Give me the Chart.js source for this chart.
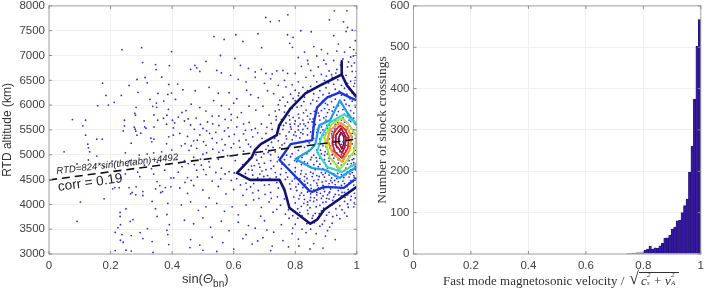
<!DOCTYPE html>
<html>
<head>
<meta charset="utf-8">
<style>
    html, body { margin: 0; padding: 0; background: #fff; width: 709px; height: 291px; overflow: hidden; }
    #left-chart-box { position: absolute; left: 0; top: -5px; width: 365px; height: 296px; }
    #right-chart-box { position: absolute; left: 365px; top: -5px; width: 344px; height: 296px; }
    .note { position: absolute; white-space: nowrap; transform-origin: left bottom; color: #222; font-family: "Liberation Sans", sans-serif; }
    #fit-note { left: 57px; top: 165px; font-size: 9.6px; font-style: italic; transform: rotate(-6.6deg); }
    #corr-note { left: 59px; top: 179px; font-size: 13.5px; transform: rotate(-8deg); }
    #left-xlabel { position: absolute; left: 182px; top: 271px; font: 13px "Liberation Sans", sans-serif; color: #333; }
    #left-xlabel sub { font-size: 10px; line-height: 0; vertical-align: -4px; }
    #right-xlabel { position: absolute; left: 443px; top: 273px; font: 13px "Liberation Serif", serif; color: #333; white-space: nowrap; }
    .root { position: absolute; left: 186px; top: -5px; font-size: 18px; }
    .under { position: absolute; left: 196px; top: -1px; width: 40px; height: 14px; border-top: 1px solid #333; font-style: italic; }
    .under span { position: absolute; }
    .mini { font-size: 7px; }
</style>
</head>
<body>
<div id="left-chart-box"><canvas id="scatter-chart"></canvas></div>
<div id="right-chart-box"><canvas id="hist-chart"></canvas></div>
<div class="note" id="fit-note">RTD=824*sin(thetabn)+4492</div>
<div class="note" id="corr-note">corr = 0.19</div>
<div id="left-xlabel">sin(<i>Θ</i><sub>bn</sub>)</div>
<div id="right-xlabel">Fast mode magnetosonic velocity / <span class="root">√</span><span class="under"><span style="left:2px;top:0">c</span><span class="mini" style="left:8px;top:-2px">2</span><span class="mini" style="left:8px;top:6px">s</span><span style="left:15px;top:0;font-style:normal">+</span><span style="left:26px;top:0">v</span><span class="mini" style="left:32px;top:-2px">2</span><span class="mini" style="left:32px;top:6px">A</span></span></div>
<script src="https://cdn.jsdelivr.net/npm/chart.js@4"></script>
<script>
const altitudeTicks = [3000, 3500, 4000, 4500, 5000, 5500, 6000, 6500, 7000, 7500, 8000];
const countTicks = [0, 100, 200, 300, 400, 500, 600];

// points
const pointsLeft = [[.076,5710],[.119,5695],[.110,5581],[.119,5395],[.155,5315],[.173,5315],[.126,5214],[.158,5990],[.193,6002],[.185,6196],[.174,6443],[.212,6056],[.235,6196],[.26,6397],[.286,6517],[.312,6557],[.319,6450],[.289,6256],[.237,7118],[.301,7158],[.304,6858],[.398,7078],[.346,6817],[.391,6797],[.348,6717],[.366,6563],[.389,6417],[.418,6424],[.398,6243],[.354,6236],[.386,6216],[.373,6082],[.328,6116],[.411,6116],[.349,6042],[.337,5976],[.35,5956],[.388,5916],[.283,5956],[.279,5836],[.281,5796],[.341,5802],[.383,5796],[.372,5736],[.353,5695],[.309,5682],[.245,5695],[.401,5695],[.408,5642],[.245,5581],[.241,5481],[.277,5555],[.28,5515],[.282,5475],[.286,5395],[.298,5435],[.311,5561],[.315,5535],[.341,5561],[.382,5615],[.404,5541],[.404,5395],[.389,5361],[.267,5234],[.331,5335],[.334,5261],[.341,5315],[.382,5220],[.049,5060],[.128,5140],[.132,5060],[.155,4974],[.091,4814],[.128,4894],[.248,5040],[.293,4994],[.319,5014],[.34,5040],[.366,5060],[.399,5094],[.102,4046],[.091,3657],[.179,4112],[.207,4313],[.214,4339],[.228,4333],[.234,4533],[.248,4613],[.26,4339],[.27,4239],[.282,4193],[.265,4213],[.283,4353],[.305,4259],[.305,4179],[.335,4059],[.346,4313],[.351,4459],[.36,4379],[.378,4339],[.369,4259],[.363,4239],[.396,4353],[.386,4019],[.346,3912],[.351,3758],[.383,3796],[.231,3837],[.231,3758],[.25,3912],[.273,3691],[.264,3657],[.232,3591],[.224,3531],[.215,3437],[.237,3391],[.267,3371],[.296,3431],[.32,3511],[.305,3311],[.232,3277],[.241,3237],[.335,3251],[.215,3070],[.25,3078],[.267,3058],[.338,3030],[.391,3591],[.383,3477],[.386,3391],[.389,3190],[.405,4533],[.396,4533],[.262,4880],[.31,4790],[.352,4850],[.39,4810],[.415,4905],[.376,4690],[.333,4720],[.288,4650],[.255,4780],[.205,4870],[.178,4760],[.295,4560],[.34,4610]];

const pointsMiddle = [[.704,7766],[.719,7685],[.748,7699],[.776,7820],[.679,7439],[.607,7419],[.536,7379],[.569,7325],[.775,7419],[.793,7365],[.63,7285],[.782,7245],[.691,7158],[.791,7165],[.557,7000],[.604,6940],[.51,6880],[.46,6720],[.474,6800],[.48,6750],[.49,6680],[.545,6700],[.56,6650],[.622,6800],[.648,6740],[.67,6670],[.69,6720],[.705,6640],[.725,6630],[.74,6690],[.76,6700],[.775,6640],[.59,6600],[.615,6520],[.64,6470],[.67,6560],[.7,6440],[.72,6530],[.745,6400],[.765,6500],[.435,6310],[.475,6290],[.52,6360],[.55,6240],[.585,6250],[.61,6130],[.642,6300],[.655,6210],[.68,6150],[.71,6290],[.73,6230],[.75,6100],[.445,5890],[.462,6020],[.49,5950],[.51,5880],[.535,6090],[.56,5990],[.585,5920],[.6,6040],[.625,5850],[.65,5980],[.672,5900],[.695,5980],[.715,5800],[.735,5880],[.42,5760],[.44,5680],[.46,5600],[.478,5740],[.5,5530],[.515,5660],[.53,5780],[.552,5590],[.57,5480],[.592,5700],[.61,5560],[.632,5420],[.65,5650],[.67,5530],[.69,5620],[.705,5430],[.725,5510],[.425,5430],[.45,5370],[.47,5280],[.49,5400],[.51,5190],[.53,5330],[.545,5240],[.565,5090],[.585,5370],[.6,5220],[.62,5150],[.64,5300],[.655,5160],[.43,5180],[.455,5090],[.48,5130],[.5,5010],[.44,4880],[.47,4950],[.495,4790],[.52,4860],[.55,4910],[.58,4980],[.605,4880],[.63,4800],[.65,4920],[.42,4650],[.45,4540],[.48,4690],[.51,4600],[.53,4470],[.56,4730],[.585,4660],[.61,4520],[.64,4430],[.66,4690],[.685,4610],[.71,4580],[.735,4640],[.425,4330],[.45,4220],[.47,4380],[.5,4290],[.52,4130],[.55,4360],[.575,4210],[.6,4300],[.63,4180],[.655,4350],[.68,4280],[.7,4390],[.72,4240],[.745,4330],[.43,3990],[.46,4050],[.485,3880],[.51,3950],[.545,4020],[.57,3860],[.595,3950],[.615,3790],[.64,3990],[.665,4090],[.69,3940],[.715,4050],[.74,3900],[.765,4110],[.44,3680],[.47,3610],[.5,3730],[.525,3540],[.56,3660],[.585,3470],[.615,3640],[.64,3390],[.67,3520],[.7,3670],[.73,3440],[.755,3590],[.78,3720],[.46,3290],[.49,3180],[.53,3340],[.565,3230],[.6,3100],[.63,3310],[.66,3200],[.695,3330],[.725,3160],[.76,3270],[.79,3410],[.545,3050],[.72,3070],[.5,3075],[.458,3130]];

const pointsUpperRight = [[.927,7900],[.968,7900],[.911,7719],[.957,7679],[.97,7565],[.818,7499],[.852,7479],[.925,7399],[.965,7485],[.978,7165],[.995,7300],[.985,7510],[.94,7230],[.885,7120],[.86,7180],[.83,7070],[.81,6960],[.84,6900],[.87,6990],[.905,7040],[.935,7090],[.96,7070],[.99,7120],[.998,7050],[.98,6970],[.955,6930],[.925,6900],[.9,6830],[.875,6770],[.85,6700],[.82,6780],[.8,6640],[.835,6560],[.86,6590],[.885,6620],[.91,6690],[.935,6720],[.97,6770],[.992,6850],[.985,6680],[.965,6600],[.92,6560],[.895,6500],[.87,6470],[.995,6560],[.98,6480],[.97,6440],[.99,6380],[.81,6470],[.79,6410],[.77,6370],[.8,6300],[.825,6360],[.85,6380],[.785,6220],[.81,6190],[.76,6160],[.775,6060],[.745,6010],[.8,6090],[.83,6160],[.84,6290],[.86,6230],[.88,6290],[.9,6350],[.925,6420],[.95,6400],[.975,6330],[.89,6210],[.91,6240],[.93,6320],[.96,6340],[.985,6250],[.998,6210],[.87,6080],[.85,6030],[.82,5990],[.835,5900],[.79,5930],[.765,5860],[.78,5790],[.81,5820],[.84,5780],[.755,5710],[.77,5640],[.8,5680],[.825,5700],[.855,5660],[.89,6090],[.87,5950],[.885,5890],[.905,6010],[.93,6120],[.95,6200],[.925,5960],[.96,6100],[.985,6080],[.905,5850],[.995,5960],[.975,5990],[.955,5910],
[.842,6830],[.893,6905],[.918,6612],[.947,6808],[.973,6870],[.989,6990],[.908,6447],[.938,6510],[.953,6655],[.886,6415],[.864,6342],[.913,6165],[.943,6280],[.968,6222],[.993,6440],[.876,6153],[.857,6106],[.898,6037],[.918,6072],[.948,6052],[.978,6128],[.828,6072],[.812,6247],[.793,6136],[.767,5985],[.748,5905],[.806,5958],[.827,5846],[.862,5875],[.848,5720],[.793,5752],[.738,5772],[.762,5590],[.783,5617],[.816,5622],[.998,6680],[.983,6790],[.961,6495],[.932,6647],[.901,6585]];

const pointsDense = [[.76,5510],[.785,5560],[.81,5580],[.84,5530],[.865,5610],[.75,5420],[.77,5380],[.8,5460],[.825,5420],[.85,5460],[.87,5390],[.89,5500],[.745,5280],[.765,5230],[.79,5300],[.815,5340],[.835,5290],[.86,5330],[.88,5240],[.9,5700],[.92,5780],[.94,5870],[.97,5800],[.99,5740],[.91,5600],[.93,5690],[.955,5750],[.98,5670],[.995,5620],[.895,5650],[.9,5440],[.915,5510],[.93,5570],[.94,5620],[.96,5660],[.975,5590],[.99,5500],[.905,5300],[.92,5380],[.93,5470],[.95,5520],[.96,5440],[.985,5430],[.995,5330],[.9,5160],[.91,5230],[.925,5290],[.935,5150],[.94,5320],[.955,5260],[.965,5190],[.98,5280],[.99,5140],[.905,5020],[.92,5090],[.93,4980],[.945,5060],[.955,5130],[.97,5040],[.985,5000],[.995,5090],[.895,4900],[.91,4930],[.925,4860],[.94,4900],[.96,4960],[.975,4880],[.99,4840],[.88,4810],[.9,4780],[.915,4820],[.935,4760],[.95,4790],[.965,4730],[.98,4770],[.995,4700],[.87,5100],[.885,5020],[.86,4990],[.845,5090],[.83,5150],[.81,5090],[.79,5020],[.77,5070],[.75,5140],[.735,5060],[.72,5000],[.705,5110],[.69,4950],[.675,4890],[.7,4830],[.72,4880],[.745,4950],[.765,4900],[.785,4960],[.81,4930],[.83,4860],[.85,4900],[.87,4870],[.685,4750],[.705,4700],[.73,4770],[.755,4720],[.78,4800],[.8,4740],[.82,4680],[.845,4760],[.865,4700],[.885,4640],[.905,4680],[.925,4620],[.945,4660],[.965,4600],[.985,4640],[.665,4420],[.69,4480],[.715,4400],[.74,4440],[.76,4370],[.775,4550],[.795,4600],[.815,4520],[.835,4610],[.855,4560],[.875,4500],[.895,4550],[.915,4480],[.935,4520],[.955,4470],[.975,4550],[.995,4490],[.79,4470],[.81,4410],[.83,4470],[.85,4390],[.87,4430],[.89,4380],[.91,4420],[.93,4400],[.95,4380],[.975,4430],[.99,4390],[.785,4310],[.805,4280],[.825,4340],[.84,4250],[.86,4290],[.875,4330],[.895,4260],[.915,4310],[.94,4280],[.96,4240],[.985,4300],[.795,4150],[.815,4180],[.83,4100],[.85,4140],[.87,4190],[.885,4120],[.905,4190],[.925,4150],[.945,4110],[.97,4190],[.995,4130],[.8,4030],[.82,3960],[.84,3990],[.86,4060],[.88,3980],[.9,4050],[.92,3990],[.945,3970],[.97,4010],[.99,3950],[.815,3840],[.84,3880],[.865,3820],[.885,3870],[.91,3840],[.935,3780],[.96,3830],[.83,3700],[.855,3720],[.875,3740],[.895,3670],[.92,3620],[.8,3600],[.85,3500],[.88,3560],[.905,3470],[.835,3430],[.93,3290],[.86,3210],[.81,3300],[.89,3120],
[.93,5610],[.945,5570],[.955,5610],[.965,5500],[.97,5560],[.91,5420],[.92,5470],[.935,5420],[.945,5480],[.975,5470],[.98,5390],[.92,5340],[.93,5350],[.945,5400],[.96,5370],[.97,5340],[.985,5360],[.915,5180],[.925,5210],[.94,5240],[.95,5210],[.975,5170],[.985,5220],[.92,5000],[.935,5040],[.95,5000],[.965,5090],[.975,4970],[.99,4920],[.905,5100],[.89,5180],[.875,5220],[.86,5170],[.845,5240],[.88,5320],[.895,5350],[.87,5450],[.855,5380],[.84,5400],[.825,5510],[.81,5500],[.795,5400],[.78,5460],[.885,5560],[.905,5530],[.915,5660],[.935,5800],[.95,5700],[.975,5700],[.99,5840],[.92,5880],[.9,5770],[.88,5700],[.865,5770],[.85,5830],[.875,5840],[.895,5930],[.91,5910],[.94,5990],[.965,6020],[.98,5890],[.96,5820],[.88,4930],[.895,4990],[.875,5040],[.86,4800],[.84,4830],[.82,4800],[.805,4860],[.895,4840],[.91,4870],[.925,4930],[.94,4830],[.955,4870],[.97,4810],[.985,4900],[.995,4770],[.905,4730],[.92,4720],[.94,4720],[.96,4680],[.98,4700],[.875,4760],[.89,4720],[.85,4650],[.83,4560],[.8,4660],[.77,4640],[.87,4580],[.89,4600],[.91,4590],[.93,4570],[.95,4600],[.97,4660],[.99,4580],[.84,4430],[.86,4480],[.9,4470],[.92,4440],[.94,4460],[.96,4420],[.98,4480],[.82,4230],[.85,4210],[.87,4240],[.89,4170],[.91,4230],[.93,4200],[.95,4170],[.975,4250],[.84,4050],[.87,4090],[.89,4040],[.91,4110],[.93,4060],[.96,4060],[.98,4090]];

// second pass over the crowded part near the right edge
const pointsCrowd = [[.872,5512],[.882,5447],[.893,5402],[.858,5552],[.833,5582],[.818,5447],[.803,5382],[.787,5518],[.772,5322],[.757,5197],[.728,5147],[.712,5047],[.698,5022],[.682,4822],[.667,4782],[.692,4672],[.722,4722],[.742,4862],[.757,4812],[.772,4992],[.798,4882],[.822,4947],[.838,5022],[.853,4947],[.868,4942],[.882,5092],[.897,5062],[.912,5142],[.926,5072],[.938,4942],[.948,4952],[.958,5022],[.972,4922],[.982,4822],[.992,5022],[.902,5222],[.911,5322],[.918,5422],[.928,5522],[.938,5652],[.948,5632],[.958,5712],[.968,5642],[.982,5522],[.993,5432],[.903,5592],[.893,5742],[.878,5782],[.858,5722],[.842,5652],[.828,5622],[.812,5742],[.798,5622],[.782,5702],[.768,5772],[.753,5602],[.743,5482],[.733,5332],[.723,5252],[.712,5182],[.702,5252],[.688,5062],[.672,5002],[.658,4772],[.648,4702],[.638,4622],[.662,4592],[.678,4532],[.698,4562],[.718,4522],[.738,4552],[.752,4602],[.768,4502],[.782,4412],[.798,4522],[.818,4612],[.838,4522],[.858,4622],[.878,4562],[.898,4632],[.918,4532],[.938,4622],[.958,4542],[.978,4612],[.992,4542],[.888,4452],[.908,4362],[.928,4482],[.948,4322],[.968,4362],[.988,4462],[.832,4402],[.852,4322],[.872,4382],[.892,4312],[.912,4252],[.932,4342],[.952,4242],[.972,4302],[.992,4222],[.802,4352],[.812,4112],[.828,4182],[.848,4082],[.862,4132],[.882,4222],[.902,4122],[.922,4082],[.942,4192],[.962,4142],[.982,4162],[.808,3912],[.828,4022],[.848,3932],[.868,3952],[.892,3922],[.912,3972],[.932,3912],[.952,3892],[.972,3942],[.992,4032],[.822,3772],[.842,3812],[.858,3772],[.878,3812],[.902,3782],[.922,3752],[.945,3712],[.968,3762],[.808,3722],[.838,3612],[.862,3632],[.888,3602],[.912,3542],[.792,3522],[.822,3502],[.868,3412],[.898,3362],[.778,3142],[.848,3102],[.708,3482],[.678,3262],[.812,3162],[.648,3572],[.688,3762],[.728,3842],[.752,3982],[.778,3892],[.792,3772],[.768,3802],[.742,4152],[.722,4122],[.702,4202],[.682,4122],[.662,4232],[.642,4302],[.622,4392],[.602,4632],[.592,4482],[.572,4612],[.558,4512],[.542,4642],[.522,4752],[.502,4702],[.482,4552],[.462,4482],[.442,4442],[.432,4762],[.452,4822],[.472,4802],[.492,4912],[.512,5042],[.532,5112],[.552,5052],[.572,5202],[.592,5142],[.612,5002],[.632,5072],[.648,5212],[.662,5362],[.678,5442],[.692,5332],[.708,5552],[.722,5632],[.738,5702],[.632,5622],[.612,5752],[.592,5812],[.572,5712],[.552,5782],[.532,5622],[.512,5482],[.492,5612],[.472,5512],[.452,5722],[.432,5852],[.442,5222],[.462,5182],[.482,5292],[.502,5262],[.522,5432],[.542,5452],[.562,5312],[.582,5542],[.602,5412],[.618,5282],[.638,5492],[.658,5502]];

const histBinCenters = [.7463,.7549,.7635,.7721,.7807,.7893,.7979,.8065,.8151,.8237,.8323,.8409,.8495,.8581,.8667,.8753,.8839,.8925,.9011,.9097,.9183,.9269,.9355,.9441,.9527,.9613,.9699,.9785,.9871,.9957];
const histCounts = [1,1,2,2,3,3,3,9,12,19,12,15,14,20,26,38,39,46,60,65,80,82,100,117,133,198,261,374,502,567];

const fitLine = [[0,4492],[1,5316]];

// contours go from the outside in
const contourOuter = [[1,6156],[.968,6397],[.951,6617],[.951,6884],[.951,6617],[.881,6397],[.833,6236],[.785,5936],[.748,5595],[.74,5395],[.688,5214],[.669,5094],[.659,4954],[.611,4633],[.653,4493],[.749,4493],[.765,4293],[.781,3932],[.849,3611],[.871,3691],[.894,3892],[1,4353]];
const contourBlue = [[1,6096],[.977,6156],[.945,6257],[.904,6156],[.871,5956],[.862,5695],[.855,5295],[.785,5214],[.749,4894],[.846,4273],[.855,4253],[.894,4353],[.958,4333],[1,4533]];
const contourSky = [[1,5595],[.968,5856],[.945,6096],[.913,5695],[.878,5595],[.865,5214],[.849,5094],[.801,4914],[.855,4733],[.897,4693],[.945,4533],[.968,4633],[1,4753]];
const contourTeal = [[1,5635],[.958,5816],[.913,5655],[.887,5395],[.871,5054],[.904,4754],[.952,4653],[1,4833]];
const contourLime = [[.974,5615],[.952,5735],[.92,5635],[.894,5355],[.913,4934],[.945,4713],[.99,5054],[1,5355],[.974,5615]];
const contourOrange = [[.945,5655],[.913,5495],[.904,5295],[.92,5054],[.952,4854],[.977,5094],[.984,5355],[.968,5555],[.945,5655]];
const contourRed = [[.945,5595],[.926,5455],[.92,5234],[.929,5054],[.952,4934],[.971,5134],[.974,5355],[.961,5515],[.945,5595]];
const contourCrimson = [[.949,5535],[.932,5395],[.932,5194],[.952,5034],[.961,5154],[.965,5355],[.949,5535]];
const contourInner = [[.949,5455],[.942,5355],[.942,5234],[.952,5114],[.958,5234],[.958,5355],[.949,5455]];

const textColor = '#404040';
const gridColor = '#f0f0f0';
const frameColor = '#a6a6a6';

function toXY(list) {
    return list.map(p => ({ x: p[0], y: p[1] }));
}

function contourSet(list, color, width) {
    return { data: toXY(list), showLine: true, borderColor: color, borderWidth: width, pointRadius: 0, borderJoinStyle: 'round' };
}

// frame and short inward ticks, like the original axes
const framePlugin = {
    id: 'frame',
    afterDatasetsDraw(chart) {
        const { ctx, chartArea: a, scales } = chart;
        ctx.save();
        ctx.strokeStyle = frameColor;
        ctx.lineWidth = 1;
        ctx.strokeRect(a.left, a.top, a.right - a.left, a.bottom - a.top);
        ctx.strokeStyle = '#8a8a8a';
        ctx.beginPath();
        scales.x.ticks.forEach((t, i) => {
            const px = scales.x.getPixelForTick(i);
            ctx.moveTo(px, a.top); ctx.lineTo(px, a.top + 3);
            ctx.moveTo(px, a.bottom); ctx.lineTo(px, a.bottom - 3);
        });
        scales.y.ticks.forEach((t, i) => {
            const py = scales.y.getPixelForTick(i);
            ctx.moveTo(a.left, py); ctx.lineTo(a.left + 3, py);
            ctx.moveTo(a.right, py); ctx.lineTo(a.right - 3, py);
        });
        ctx.stroke();
        ctx.restore();
    }
};

function axesOptions(yMin, yMax, yTicks, yWidth, yTitle, titleFont, titlePad) {
    return {
        x: {
            type: 'linear', min: 0, max: 1, offset: false,
            grid: { color: gridColor, drawTicks: false, offset: false },
            border: { display: false },
            afterBuildTicks: s => { s.ticks = [0, .2, .4, .6, .8, 1].map(v => ({ value: v })); },
            ticks: { color: textColor, font: { family: 'Liberation Sans', size: 11.5 }, padding: 5, maxRotation: 0, callback: v => String(v) },
            afterFit: s => { s.height = 37; }
        },
        y: {
            type: 'linear', min: yMin, max: yMax,
            grid: { color: gridColor, drawTicks: false },
            border: { display: false },
            afterBuildTicks: s => { s.ticks = yTicks.map(v => ({ value: v })); },
            ticks: { color: textColor, font: { family: 'Liberation Sans', size: 11.5 }, padding: 4, callback: v => String(v) },
            title: { display: true, text: yTitle, color: '#333', font: titleFont, padding: titlePad },
            afterFit: s => { s.width = yWidth; }
        }
    };
}

Chart.defaults.animation = false;

new Chart(document.getElementById('scatter-chart'), {
    type: 'scatter',
    data: {
        datasets: [
            { data: toXY(fitLine), showLine: true, borderColor: '#111', borderWidth: 1.6, borderDash: [8, 5], pointRadius: 0 },
            contourSet(contourInner, '#7a0f3a', 1.6),
            contourSet(contourCrimson, '#b5102c', 1.8),
            contourSet(contourRed, '#e8201c', 1.8),
            contourSet(contourOrange, '#f4a21f', 2),
            contourSet(contourLime, '#a9e23a', 2),
            contourSet(contourTeal, '#2ad8c6', 2),
            contourSet(contourSky, '#1c9fe6', 2.2),
            contourSet(contourBlue, '#1a35dc', 2.4),
            contourSet(contourOuter, '#12126e', 2.6),
            {
                data: toXY(pointsLeft.concat(pointsMiddle, pointsUpperRight, pointsDense, pointsCrowd)),
                backgroundColor: '#2a2aee', borderWidth: 0, pointRadius: 0.9
            }
        ]
    },
    options: {
        responsive: true, maintainAspectRatio: false,
        layout: { padding: { top: 0, right: 2, left: 0, bottom: 0 } },
        plugins: { legend: { display: false }, tooltip: { enabled: false } },
        scales: axesOptions(3000, 8000, altitudeTicks, 49, 'RTD altitude (km)', { family: 'Liberation Sans', size: 12 }, 0)
    },
    plugins: [framePlugin]
});

new Chart(document.getElementById('hist-chart'), {
    type: 'bar',
    data: {
        datasets: [{
            data: histBinCenters.map((c, i) => ({ x: c, y: histCounts[i] })),
            backgroundColor: '#34189e', borderColor: '#1f1072', borderWidth: 0.6,
            barPercentage: 1, categoryPercentage: 1
        }]
    },
    options: {
        responsive: true, maintainAspectRatio: false,
        layout: { padding: { top: 0, right: 0, left: 0, bottom: 0 } },
        plugins: { legend: { display: false }, tooltip: { enabled: false } },
        scales: axesOptions(0, 600, countTicks, 48.5, 'Number of shock crossings', { family: 'Liberation Serif', size: 13.5 }, { top: 9, bottom: 0 })
    },
    plugins: [framePlugin]
});
</script>
</body>
</html>
